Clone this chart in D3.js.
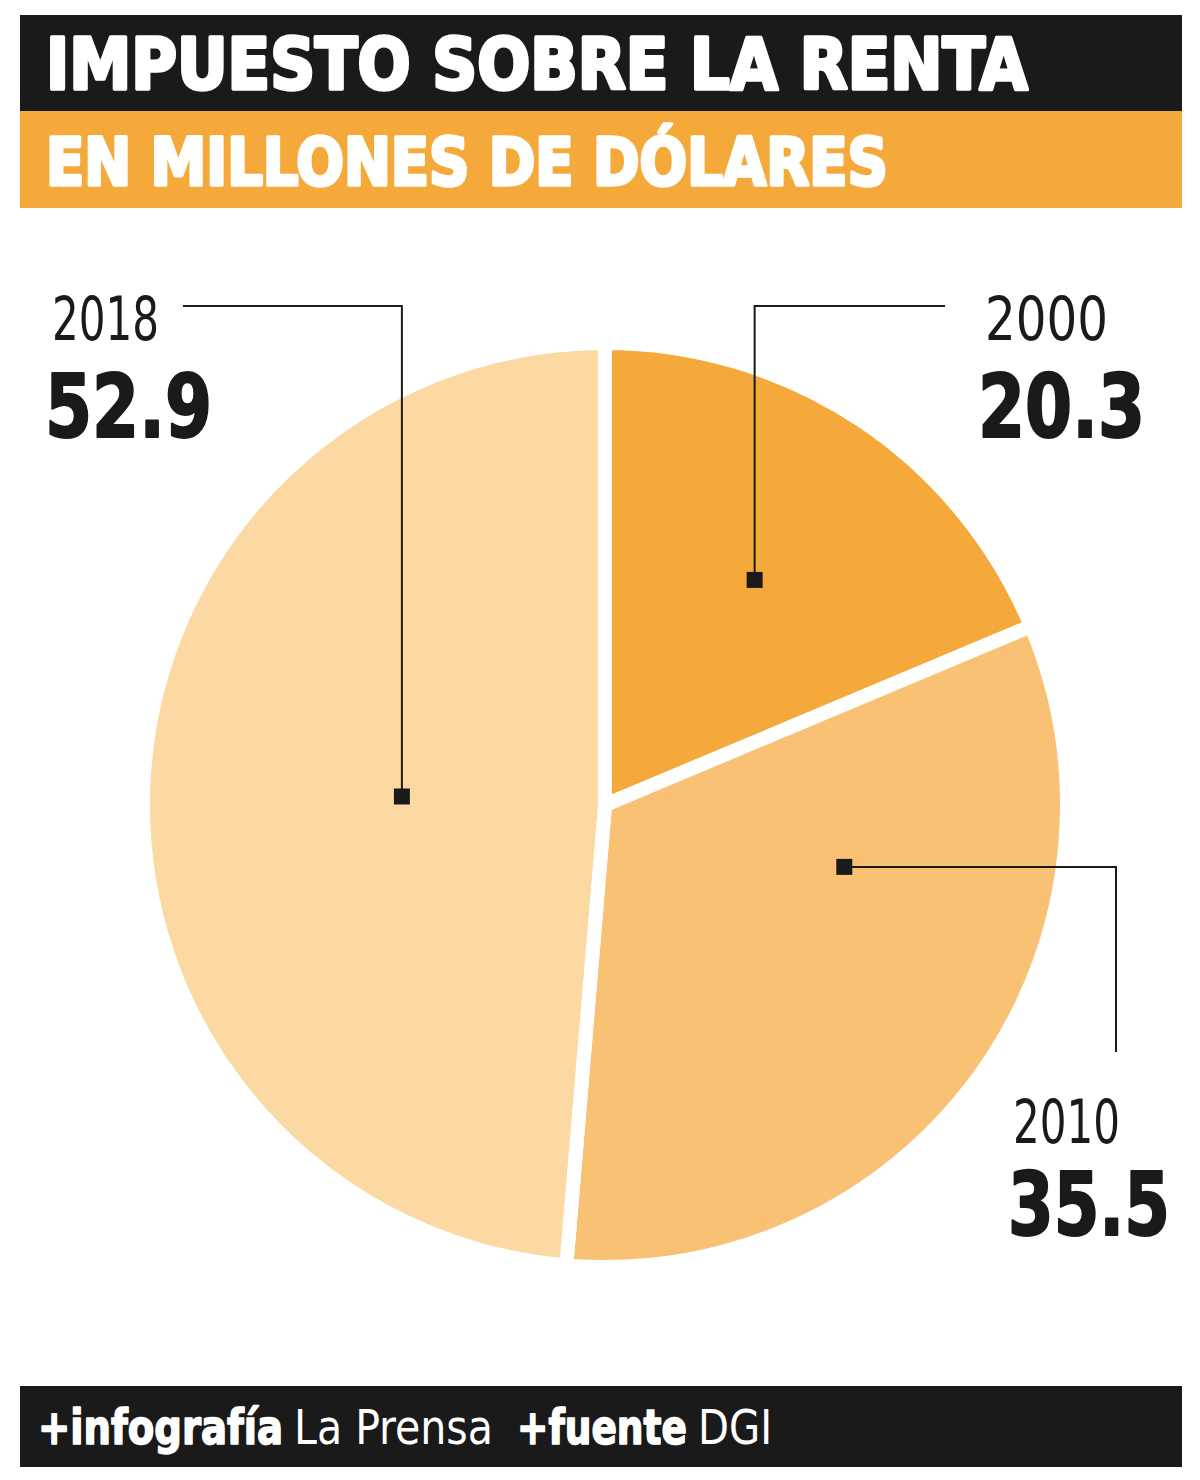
<!DOCTYPE html>
<html><head><meta charset="utf-8">
<script src="https://cdn.jsdelivr.net/npm/d3@7"></script>
<style>
html,body{margin:0;padding:0;background:#fff;}
svg{display:block;}
</style></head>
<body>
<script>
// ---- data ----
const years = ["2000", "2010", "2018"];
const values = [20.3, 35.5, 52.9];
const valueLabels = ["20.3", "35.5", "52.9"];
const title = "IMPUESTO SOBRE LA RENTA";
const subtitle = "EN MILLONES DE DÓLARES";
const creditParts = ["+infografía", "La Prensa", "+fuente", "DGI"];
const creditBold = [true, false, true, false];
const colors = ["#f5a93a", "#f9c174", "#fcd8a2"];

// ---- layout ----
const W = 1200, H = 1480;
const cx = 605, cy = 805, R = 462;
const cond = "'Liberation Sans Narrow','Arial Narrow','DejaVu Sans Condensed',sans-serif";

const svg = d3.select("body").append("svg").attr("width", W).attr("height", H);

// text placed at (x, baseline y) and horizontally scaled to width w
function fitText(str, x, y, w, opts) {
  const t = svg.append("text").text(str)
    .attr("font-family", cond).attr("font-weight", opts.weight).attr("font-size", opts.size)
    .attr("fill", opts.fill);
  if (opts.stroke) t.attr("stroke", opts.fill).attr("stroke-width", opts.stroke).attr("stroke-linejoin", "round");
  const nat = t.node().getComputedTextLength();
  const sx = w / nat;
  t.attr("transform", `translate(${x},${y}) scale(${sx},1)`);
  return t;
}

// header
svg.append("rect").attr("x", 20).attr("y", 15).attr("width", 1162).attr("height", 96).attr("fill", "#1b1a1a");
svg.append("rect").attr("x", 20).attr("y", 111).attr("width", 1162).attr("height", 97).attr("fill", "#f4a93a");
fitText(title, 46, 89, 982, {weight: 700, size: 72, fill: "#fff", stroke: 3.5});
fitText(subtitle, 46, 185, 842, {weight: 700, size: 66, fill: "#fff", stroke: 3.5});

// pie
const pie = d3.pie().sort(null).value(d => d);
const arcs = pie(values);
const arc = d3.arc().innerRadius(0).outerRadius(R);
const g = svg.append("g").attr("transform", `translate(${cx},${cy})`);
g.selectAll("path").data(arcs).join("path")
  .attr("d", arc).attr("fill", (d, i) => colors[i])
  .attr("stroke", "#fff").attr("stroke-width", 14).attr("stroke-linejoin", "round");

// leader anchors: [angle override (deg) or null, radius fraction]
const anchorSpec = [[null, 0.585], [104.5, 0.535], [null, 0.44]];
const anchors = arcs.map((d, i) => {
  const a = anchorSpec[i][0] !== null ? anchorSpec[i][0] * Math.PI / 180 : (d.startAngle + d.endAngle) / 2;
  const r = anchorSpec[i][1] * R;
  return [cx + r * Math.sin(a), cy - r * Math.cos(a)];
});
const routes = [
  p => [[p[0], p[1]], [p[0], 306], [945, 306]],
  p => [[p[0], p[1]], [1116, p[1]], [1116, 1052]],
  p => [[p[0], p[1]], [p[0], 306], [183, 306]]
];
const line = d3.line();
anchors.forEach((p, i) => {
  svg.append("path").attr("d", line(routes[i](p))).attr("fill", "none")
    .attr("stroke", "#1b1a1a").attr("stroke-width", 2);
  svg.append("rect").attr("x", p[0] - 8).attr("y", p[1] - 8).attr("width", 16).attr("height", 16).attr("fill", "#1b1a1a");
});

// labels
const labelPos = [
  {yx: 985, yy: 340, yw: 123, vx: 978, vy: 437, vw: 167},
  {yx: 1013, yy: 1143, yw: 107, vx: 1008, vy: 1235, vw: 162},
  {yx: 52, yy: 340, yw: 107, vx: 45, vy: 437, vw: 167}
];
years.forEach((y, i) => {
  const L = labelPos[i];
  fitText(y, L.yx, L.yy, L.yw, {weight: 400, size: 61, fill: "#1b1a1a"});
  fitText(valueLabels[i], L.vx, L.vy, L.vw, {weight: 700, size: 88, fill: "#1b1a1a", stroke: 2});
});

// footer
svg.append("rect").attr("x", 20).attr("y", 1386).attr("width", 1162).attr("height", 81).attr("fill", "#1b1a1a");
const creditX = [38, 294, 517, 698];
const creditW = [245, 199, 170, 74];
creditParts.forEach((t, i) => {
  const b = creditBold[i];
  fitText(t, creditX[i], 1444, creditW[i], {weight: b ? 700 : 400, size: 48, fill: "#fff", stroke: b ? 1.5 : 0});
});
</script>
</body></html>
